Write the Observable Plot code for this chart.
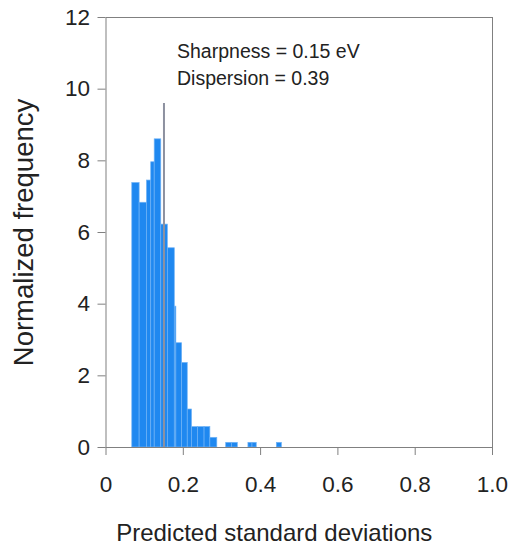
<!DOCTYPE html>
<html>
<head>
<meta charset="utf-8">
<script src="https://cdn.jsdelivr.net/npm/d3@7"></script>
<script src="https://cdn.jsdelivr.net/npm/@observablehq/plot@0.6"></script>
<style>
  html, body { margin: 0; padding: 0; background: #fff; }
  #chart svg { display: block; }
</style>
</head>
<body>
<div id="chart"></div>
<script>
// Histogram bins (predicted standard deviation, eV) and normalized frequency
const binLo = [0.068, 0.087, 0.106, 0.117, 0.126, 0.143, 0.160, 0.178, 0.182, 0.197, 0.2115, 0.2225, 0.238, 0.255, 0.270, 0.311, 0.326, 0.3685, 0.379, 0.442];
const binHi = [0.087, 0.106, 0.117, 0.126, 0.143, 0.160, 0.178, 0.182, 0.197, 0.2115, 0.2225, 0.238, 0.255, 0.270, 0.288, 0.326, 0.341, 0.379, 0.390, 0.455];
const freq  = [7.38, 6.83, 7.45, 7.96, 8.6, 6.22, 5.56, 3.93, 2.91, 2.36, 1.06, 0.57, 0.57, 0.57, 0.27, 0.13, 0.13, 0.13, 0.13, 0.13];

// Sharpness marker
const sharpness = [0.15];
const sharpnessLineTop = [9.6];

// Ticks & text
const xTicks = [0, 0.2, 0.4, 0.6, 0.8, 1.0];
const xTickLabels = ["0", "0.2", "0.4", "0.6", "0.8", "1.0"];
const yTicks = [0, 2, 4, 6, 8, 10, 12];
const annotations = ["Sharpness = 0.15 eV", "Dispersion = 0.39"];
const xTitle = "Predicted standard deviations";
const yTitle = "Normalized frequency";

const bins = binLo.map((lo, i) => ({lo, hi: binHi[i], f: freq[i]}));
const rule = sharpness.map((s, i) => ({x: s, top: sharpnessLineTop[i]}));

const axisColor = "#808080";
const font = "'Liberation Sans', Arial, Helvetica, sans-serif";

const chart = Plot.plot({
  width: 511,
  height: 548,
  marginLeft: 105.5,
  marginRight: 19,
  marginTop: 17,
  marginBottom: 101,
  style: {fontFamily: font, color: "#222", background: "#fff"},
  x: {domain: [0, 1]},
  y: {domain: [0, 12]},
  marks: [
    Plot.rectY(bins, {x1: "lo", x2: "hi", y1: 0, y2: "f", fill: "#1f88f0", stroke: "#6fb2f6", strokeWidth: 0.7}),
    Plot.ruleX(rule, {x: "x", y1: 0, y2: "top", stroke: "#8d91a0", strokeWidth: 2}),
    Plot.frame({stroke: axisColor, strokeWidth: 1}),
    Plot.axisX({ticks: xTicks, tickFormat: d => xTickLabels[xTicks.indexOf(d)], tickSize: 8, tickPadding: 21, fontSize: 22.5, stroke: axisColor, fill: "#222", label: null}),
    Plot.axisY({ticks: yTicks, tickFormat: d => String(d), tickSize: 8, tickPadding: 8, fontSize: 22.5, stroke: axisColor, fill: "#222", label: null}),
    Plot.text([annotations[0]], {frameAnchor: "top-left", dx: 71, dy: 34, textAnchor: "start", lineAnchor: "middle", fontSize: 19.5, fill: "#222"}),
    Plot.text([annotations[1]], {frameAnchor: "top-left", dx: 71, dy: 61, textAnchor: "start", lineAnchor: "middle", fontSize: 19.5, fill: "#222"}),
    Plot.text([xTitle], {frameAnchor: "bottom", dx: -25, dy: 86, textAnchor: "middle", lineAnchor: "middle", fontSize: 24, fill: "#222"}),
    Plot.text([yTitle], {frameAnchor: "left", dx: -82, rotate: -90, textAnchor: "middle", lineAnchor: "middle", fontSize: 27.5, fill: "#222"})
  ]
});
document.getElementById("chart").appendChild(chart);
</script>
</body>
</html>
